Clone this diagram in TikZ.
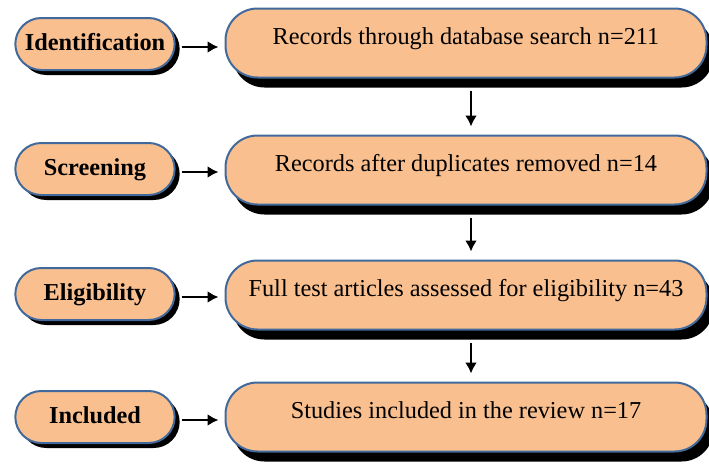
\documentclass[tikz,border=0pt]{standalone}
\usepackage{fontspec}
\setmainfont{Liberation Serif}
\usetikzlibrary{shapes.misc,shadows,arrows.meta}
\definecolor{peach}{RGB}{249,191,143}
\definecolor{rim}{RGB}{65,105,155}

\begin{document}
\begin{tikzpicture}[
    x=1pt, y=-1pt,
    every node/.style={font=\fontsize{24.3}{29}\selectfont},
    phase/.style={draw=rim, line width=2pt, fill=peach, rounded rectangle,
        minimum width=166pt, minimum height=52pt, text height=17pt, text depth=5pt,
        font=\fontsize{24.3}{29}\selectfont\bfseries,
        drop shadow={shadow xshift=5pt, shadow yshift=-5pt, fill=black, opacity=1}},
    record/.style={draw=rim, line width=2pt, fill=peach, rounded corners=32pt,
        minimum width=481pt, minimum height=69pt, text height=17pt, text depth=14pt,
        drop shadow={shadow xshift=7pt, shadow yshift=-10pt, fill=black, opacity=1}},
    link/.style={line width=2.5pt, -{Latex[length=11pt,width=12pt]}}
]
\useasboundingbox (0,0) rectangle (709,463);

% stage names
\node[phase] (ident)  at (95,44)  {Identification};
\node[phase] (screen) at (95,169) {Screening};
\node[phase] (elig)   at (95,294) {Eligibility};
\node[phase] (incl)   at (95,417) {Included};

% record counts
\node[record] (search) at (466,43)  {Records through database search n=211};
\node[record] (dedup)  at (466,170) {Records after duplicates removed n=14};
\node[record] (full)   at (466,295) {Full test articles assessed for eligibility n=43};
\node[record] (study)  at (466,417) {Studies included in the review n=17};

\foreach \a/\b in {ident/search, screen/dedup, elig/full, incl/study}
  \draw[link, shorten <=6pt, shorten >=6pt] ([yshift=-3pt]\a.east) -- ([yshift=-3pt]\a.east -| \b.west);

\foreach \a/\b in {search/dedup, dedup/full, full/study}
  \draw[link, shorten <=12pt, shorten >=8pt] ([xshift=5pt]\a.south) -- ([xshift=5pt]\b.north);
\end{tikzpicture}
\end{document}
